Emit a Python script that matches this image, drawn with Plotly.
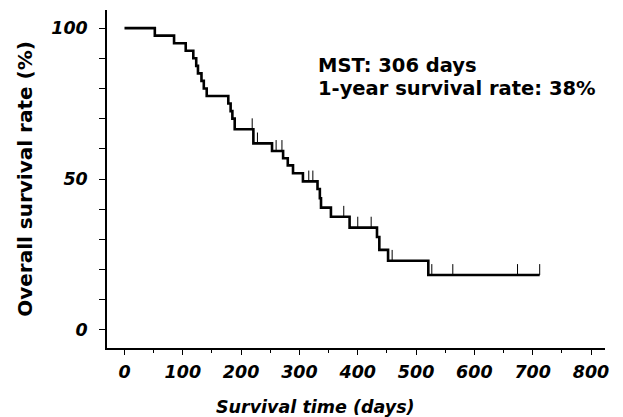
import plotly.graph_objects as go

# Kaplan-Meier step curve (days, survival % after the step)
event_days = [0, 52, 85, 105, 118, 123, 126, 132, 136, 141, 178, 182, 185, 189,
              221, 253, 272, 280, 289, 306, 331, 335, 337, 354, 386, 433, 437, 452, 521]
survival = [100, 97.5, 95, 92.5, 90, 87.5, 85, 82.5, 80, 77.5, 75, 72.5, 70, 66.5,
            61.8, 59.3, 56.9, 54.5, 51.9, 49.2, 46.7, 43.6, 40.5, 37.5, 33.9, 30.8, 26.5, 22.9, 18.2]
last_followup = 712

# Censored observations (days)
censor_days = [219, 228, 260, 270, 316, 323, 376, 400, 423, 459, 527, 563, 674, 712]

x_ticks = [0, 100, 200, 300, 400, 500, 600, 700, 800]
y_ticks = [0, 10, 20, 30, 40, 50, 60, 70, 80, 90, 100]
y_labels = {0: "0", 50: "50", 100: "100"}

annot_lines = ["MST: 306 days", "1-year survival rate: 38%"]
x_title = "Survival time (days)"
y_title = "Overall survival rate (%)"


def surv_at(t):
    s = survival[0]
    for d, v in zip(event_days, survival):
        if d <= t:
            s = v
    return s


curve_x = event_days + [last_followup]
curve_y = survival + [survival[-1]]

cx, cy = [], []
tick_h = 3.6
for t in censor_days:
    s = surv_at(t)
    cx += [t, t, None]
    cy += [s, s + tick_h, None]

fig = go.Figure()
fig.add_trace(go.Scatter(x=curve_x, y=curve_y, mode="lines", line_shape="hv",
                         line=dict(color="black", width=2.6), hoverinfo="skip"))
fig.add_trace(go.Scatter(x=cx, y=cy, mode="lines",
                         line=dict(color="black", width=1), hoverinfo="skip"))

FONT = "DejaVu Sans"
tick_font = dict(family=FONT, size=17.5, color="black")

fig.add_annotation(x=328, y=87.7, xref="x", yref="y", text="<b>%s</b>" % annot_lines[0],
                   showarrow=False, xanchor="left", yanchor="middle",
                   font=dict(family=FONT, size=19.5, color="black"))
fig.add_annotation(x=328, y=80.0, xref="x", yref="y", text="<b>%s</b>" % annot_lines[1],
                   showarrow=False, xanchor="left", yanchor="middle",
                   font=dict(family=FONT, size=19.5, color="black"))

# axis titles
fig.add_annotation(x=0.418, y=-0.175, xref="paper", yref="paper",
                   text="<b><i>%s</i></b>" % x_title, showarrow=False,
                   xanchor="center", yanchor="middle",
                   font=dict(family=FONT, size=17.5, color="black"))
fig.add_annotation(x=-0.165, y=0.5, xref="paper", yref="paper",
                   text="<b>%s</b>" % y_title, showarrow=False, textangle=-90,
                   xanchor="center", yanchor="middle",
                   font=dict(family=FONT, size=20, color="black"))

fig.update_layout(
    width=623, height=417,
    margin=dict(l=107, r=18, t=10, b=69),
    paper_bgcolor="white", plot_bgcolor="white",
    showlegend=False,
    xaxis=dict(range=[-30, 824], showgrid=False, zeroline=False,
               showline=True, linecolor="black", linewidth=1.5,
               tickmode="array", tickvals=x_ticks,
               ticktext=["<b><i>%d</i></b>" % v for v in x_ticks],
               ticks="outside", ticklen=5, tickwidth=1.2, tickcolor="black",
               minor=dict(dtick=50, tick0=0, ticks="outside", ticklen=3, tickcolor="black"),
               tickfont=tick_font, ticklabelstandoff=2),
    yaxis=dict(range=[-6, 106], showgrid=False, zeroline=False,
               showline=True, linecolor="black", linewidth=1.5,
               tickmode="array", tickvals=y_ticks,
               ticktext=["<b><i>%s</i></b>" % y_labels[v] if v in y_labels else "" for v in y_ticks],
               ticks="outside", ticklen=6, tickwidth=1.2, tickcolor="black",
               tickfont=tick_font, ticklabelstandoff=8),
)

fig.write_html("out.html")
